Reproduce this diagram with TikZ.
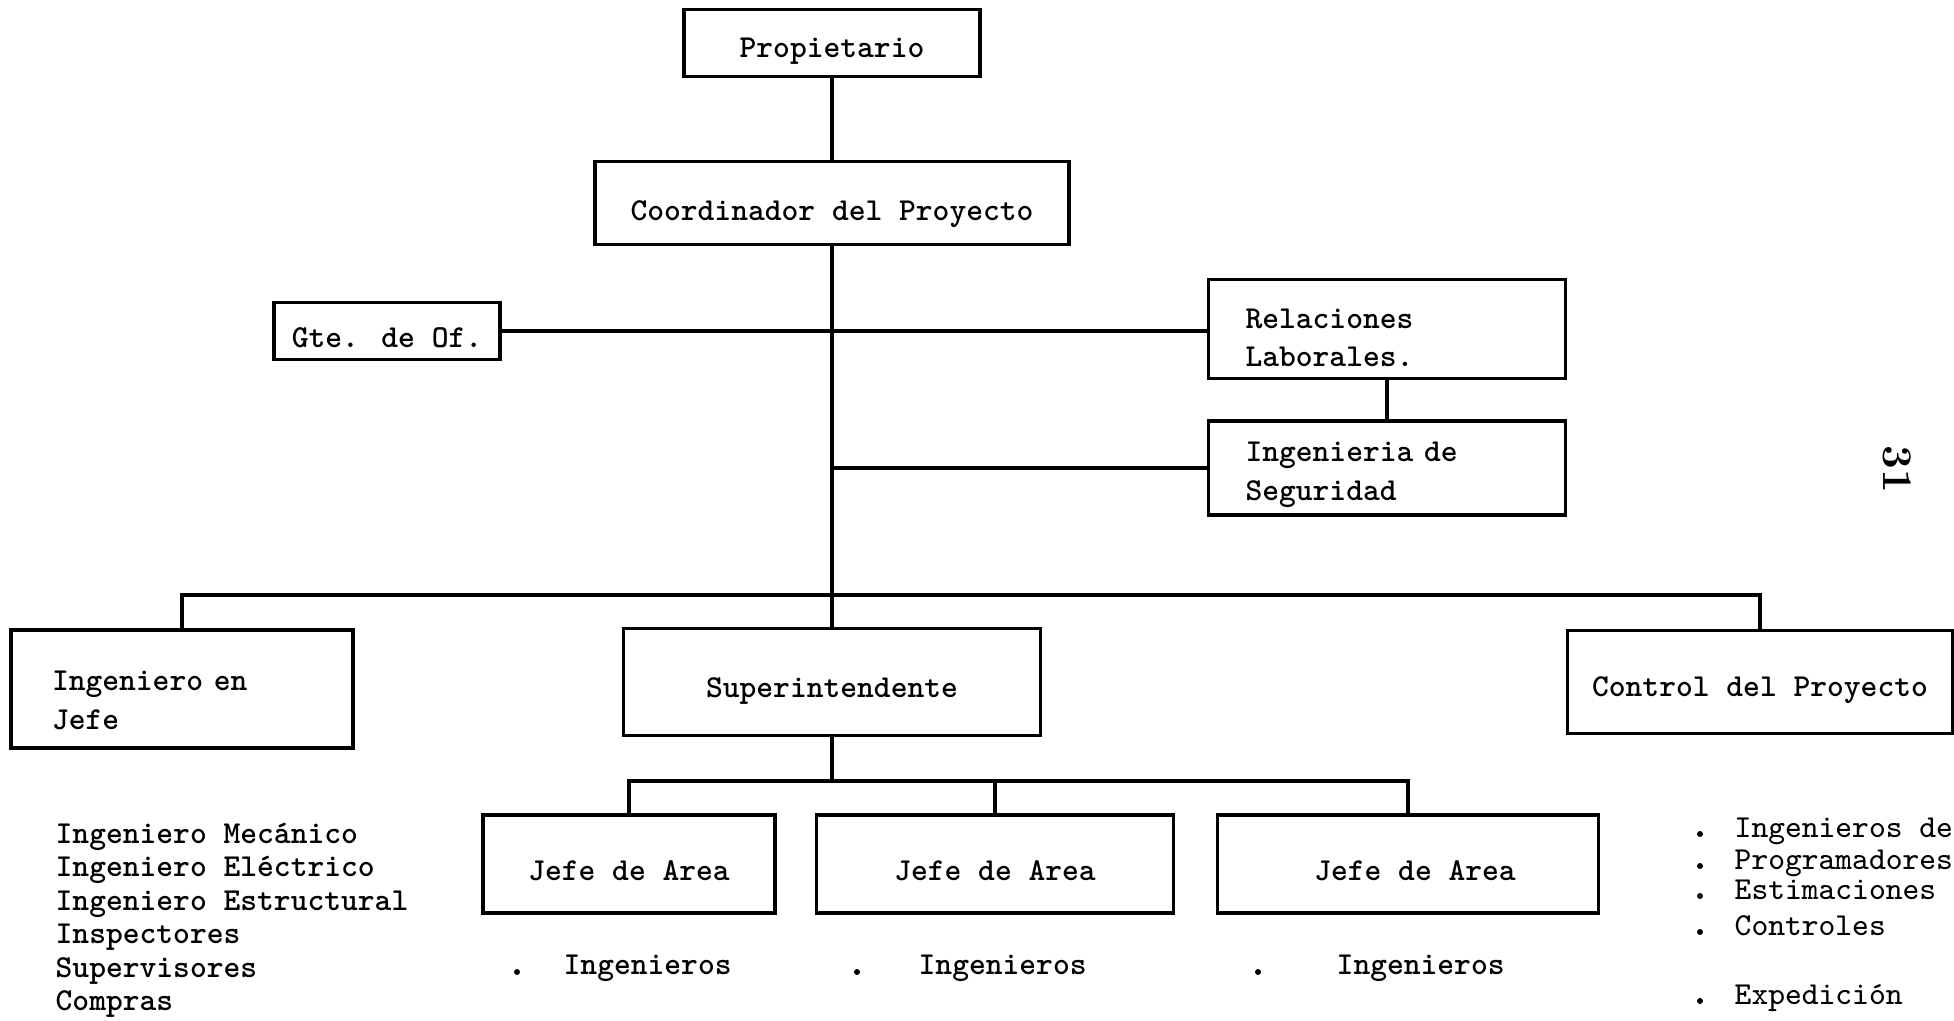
\documentclass[tikz,border=0pt]{standalone}
\usepackage{tikz}
\usetikzlibrary{calc}
\newcommand{\bajo}[1]{\rule{0pt}{#1}}
\tikzset{
  puesto/.style={draw, line width=1pt, font=\ttfamily\bfseries\fontsize{9.1}{11}\selectfont, inner sep=0pt},
  lista/.style={font=\ttfamily\bfseries\fontsize{9.1}{11}\selectfont, anchor=west, inner sep=0pt, text height=6pt, text depth=2pt},
  punto/.style={circle, fill, inner sep=0pt, minimum size=0.6mm},
  linea/.style={line width=1.1pt},
  barra/.style={line width=1.4pt},
}

\begin{document}
\begin{tikzpicture}[x=0.1mm, y=-0.1mm]
  %%%%% START %%%%%
  \useasboundingbox (0,0) rectangle (1954,1021);
  \clip (0,0) rectangle (1954,1021);

  \node[puesto, minimum width=29.6mm, minimum height=6.7mm] (prop) at (832, 43) {\bajo{10.5pt}Propietario};
  \node[puesto, minimum width=47.4mm, minimum height=8.3mm] (coord) at (832, 203) {\bajo{12pt}Coordinador del Proyecto};
  \node[puesto, minimum width=22.6mm, minimum height=5.7mm] (gte) at (387, 331) {\bajo{9.7pt}Gte. de Of.};

  \node[puesto, text width=28.3mm, align=left, inner xsep=3.7mm, minimum height=9.9mm] (rel) at (1387, 329) {\bajo{10.5pt}Relaciones\\Laborales.};
  \node[puesto, text width=28.3mm, align=left, inner xsep=3.7mm, minimum height=9.4mm] (seg) at (1387, 468) {\bajo{9.5pt}Ingenieria de\\Seguridad};

  \node[puesto, text width=26mm, align=left, inner xsep=4.1mm, minimum height=11.8mm] (jefe) at (182, 689) {\bajo{12pt}Ingeniero en\\Jefe};
  \node[puesto, minimum width=41.7mm, minimum height=10.7mm] (super) at (832, 682) {\bajo{10.5pt}Superintendente};
  \node[puesto, minimum width=38.5mm, minimum height=10.3mm] (control) at (1760, 682) {\bajo{10.5pt}Control del Proyecto};

  \node[puesto, minimum width=29.2mm, minimum height=9.8mm] (area1) at (629, 864) {\bajo{9.3pt}Jefe de Area};
  \node[puesto, minimum width=35.7mm, minimum height=9.8mm] (area2) at (995, 864) {\bajo{9.3pt}Jefe de Area\hspace{3mm}};
  \node[puesto, minimum width=38.1mm, minimum height=9.8mm] (area3) at (1408, 864) {\hspace{1.4mm}\bajo{9.3pt}Jefe de Area};

  % lineas de mando
  \draw[linea] (prop) -- (coord);
  \draw[linea] (coord) -- (super);
  \draw[barra] (gte.east) -- (gte.east -| rel.west);
  \draw[linea] (rel) -- (seg);
  \draw[barra] (seg.west) -- (seg.west -| coord.south);

  \coordinate (bar) at (832, 595);
  \draw[barra] (jefe.north) |- (bar) -| (control.north);

  \coordinate (reparto) at (832, 781);
  \draw[linea] (super) -- (reparto);
  \draw[linea] (area1.north) |- (reparto) -| (area3.north);
  \draw[linea] (reparto -| area2.north) -- (area2.north);

  % personal
  \foreach \t [count=\i from 0] in {Ingeniero Mecánico, Ingeniero Eléctrico, Ingeniero Estructural, Inspectores, Supervisores, Compras}
    \node[lista] (ing\i) at (55, {836+33.5*\i}) {\t};

  \node[punto] (pA) at (517, 972) {};
  \node[lista] (ingA) at (563, 967) {Ingenieros};
  \node[punto] (pB) at (857, 972) {};
  \node[lista] (ingB) at (918, 967) {Ingenieros};
  \node[punto] (pC) at (1258, 972) {};
  \node[lista] (ingC) at (1336, 967) {Ingenieros};

  \foreach \t/\y [count=\i] in {Ingenieros de/830, Programadores/862, Estimaciones/892, Controles/928, Expedición/997} {
    \node[punto] (pc\i) at (1700, \y+4) {};
    \node[lista, font=\ttfamily\fontsize{9.1}{11}\selectfont] (ctl\i) at (1734, \y) {\t};
  }

  \node[font=\bfseries\fontsize{12}{12}\selectfont, rotate=-90] (pag) at (1897, 469) {31};
  %%%%% END %%%%%
\end{tikzpicture}
\end{document}
